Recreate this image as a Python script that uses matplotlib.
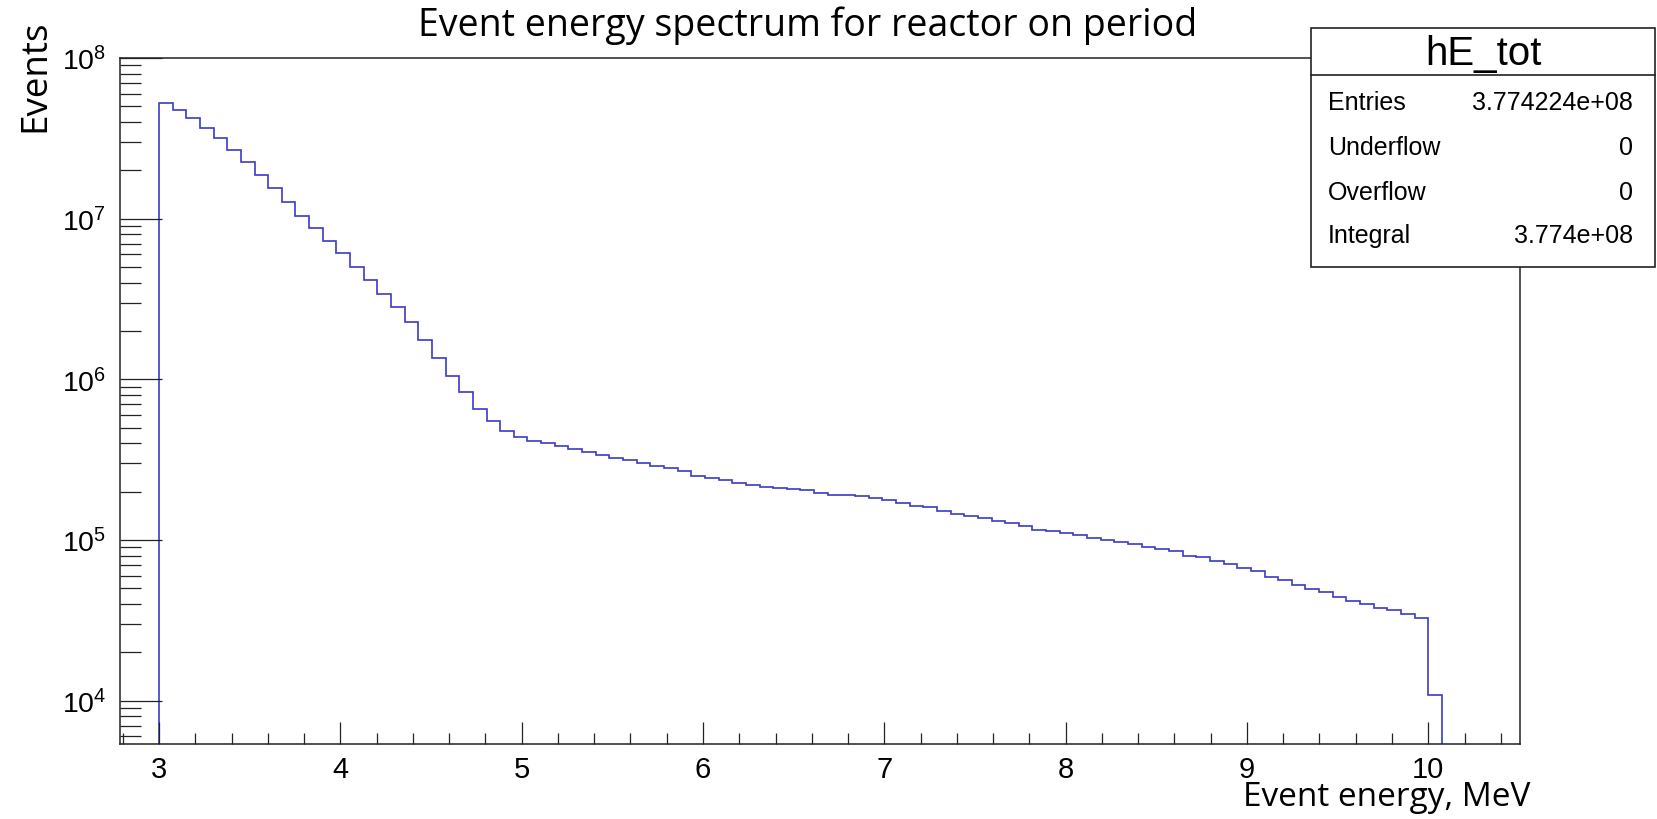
import matplotlib
matplotlib.use('Agg')
import matplotlib.pyplot as plt
from matplotlib.patches import Rectangle
from matplotlib.lines import Line2D
from matplotlib.ticker import FixedLocator, FixedFormatter, MultipleLocator, LogLocator, NullFormatter
import numpy as np

# histogram hE_tot, bins start at 3 MeV
bin_start = 3.0
bin_width = 7.0 / 93
counts = [
    5.25e7, 4.75e7, 4.24e7, 3.67e7, 3.19e7, 2.69e7, 2.25e7, 1.88e7, 1.55e7, 1.27e7,
    1.04e7, 8.71e6, 7.30e6, 6.12e6, 5.00e6, 4.17e6, 3.41e6, 2.82e6, 2.26e6, 1.76e6,
    1.36e6, 1.05e6, 8.30e5, 6.51e5, 5.48e5, 4.80e5, 4.40e5, 4.13e5, 3.99e5, 3.85e5,
    3.68e5, 3.53e5, 3.38e5, 3.25e5, 3.13e5, 3.01e5, 2.90e5, 2.79e5, 2.69e5, 2.52e5,
    2.42e5, 2.37e5, 2.28e5, 2.20e5, 2.15e5, 2.10e5, 2.07e5, 2.04e5, 1.96e5, 1.91e5,
    1.91e5, 1.88e5, 1.82e5, 1.78e5, 1.71e5, 1.64e5, 1.60e5, 1.51e5, 1.45e5, 1.42e5,
    1.37e5, 1.32e5, 1.27e5, 1.22e5, 1.16e5, 1.14e5, 1.11e5, 1.08e5, 1.03e5, 1.00e5,
    9.75e4, 9.39e4, 9.04e4, 8.83e4, 8.55e4, 7.98e4, 7.83e4, 7.36e4, 7.12e4, 6.66e4,
    6.44e4, 5.93e4, 5.61e4, 5.27e4, 4.96e4, 4.72e4, 4.44e4, 4.17e4, 4.01e4, 3.77e4,
    3.65e4, 3.48e4, 3.27e4, 1.09e4,
]

x_ticks = [3, 4, 5, 6, 7, 8, 9, 10]
y_ticks = [1e4, 1e5, 1e6, 1e7, 1e8]
y_tick_labels = ['$10^{4}$', '$10^{5}$', '$10^{6}$', '$10^{7}$', '$10^{8}$']

hist_name = 'hE_tot'
stat_names = ['Entries', 'Underflow', 'Overflow', 'Integral']
stat_values = ['3.774224e+08', '0', '0', '3.774e+08']

title = 'Event energy spectrum for reactor on period'
xlabel = 'Event energy, MeV'
ylabel = 'Events'

plt.rcParams['mathtext.fontset'] = 'custom'
plt.rcParams['mathtext.rm'] = 'Liberation Sans'
plt.rcParams['mathtext.it'] = 'Liberation Sans:italic'
plt.rcParams['mathtext.bf'] = 'Liberation Sans:bold'
plt.rcParams['font.family'] = ['Liberation Sans', 'DejaVu Sans']

W, H = 1657, 820
fig = plt.figure(figsize=(W / 100, H / 100), dpi=100)

# pixel -> figure fraction
def fx(px):
    return px / W

def fy(py):
    return 1 - py / H

ax = fig.add_axes([fx(120), fy(745), fx(1519.5) - fx(120), fy(59) - fy(745)])

edges = bin_start + bin_width * np.arange(len(counts) + 1)
ax.stairs(counts, edges, baseline=1, color='#3b3bc8', lw=1.2)

ax.set_yscale('log')
ax.set_xlim(2.785, 10.503)
ax.set_ylim(5.38e3, 1e8)

ax.xaxis.set_major_locator(FixedLocator(x_ticks))
ax.xaxis.set_minor_locator(MultipleLocator(0.2))
ax.yaxis.set_major_locator(FixedLocator(y_ticks))
ax.yaxis.set_major_formatter(FixedFormatter(y_tick_labels))
ax.yaxis.set_minor_locator(LogLocator(base=10, subs=np.arange(2, 10)))
ax.yaxis.set_minor_formatter(NullFormatter())

ax.tick_params(axis='x', which='major', direction='in', length=16, width=0.9,
               top=False, labelsize=21, pad=8, color='#222222')
ax.tick_params(axis='x', which='minor', direction='in', length=8, width=0.9,
               top=False, color='#222222')
ax.tick_params(axis='y', which='major', direction='in', length=30, width=0.9,
               right=False, labelsize=20.5, pad=10, color='#222222')
ax.tick_params(axis='y', which='minor', direction='in', length=15, width=0.9,
               right=False, color='#222222')
for s in ax.spines.values():
    s.set_linewidth(1.1)
    s.set_color('#222222')

# titles in ROOT placement
fig.text(fx(808), fy(36), title, ha='center', va='baseline',
         family=['Open Sans', 'DejaVu Sans'], fontsize=27)
fig.text(fx(1530), fy(806), xlabel, ha='right', va='baseline',
         family=['Open Sans', 'DejaVu Sans'], fontsize=24)
fig.text(fx(35), fy(20), ylabel, ha='center', va='top', rotation=90,
         family=['Open Sans', 'DejaVu Sans'], fontsize=26.5)

# stats box
box = Rectangle((fx(1311), fy(268)), fx(1655) - fx(1311), fy(29) - fy(268),
                transform=fig.transFigure, fc='white', ec='#222222', lw=1.2, zorder=5)
fig.add_artist(box)
fig.add_artist(Line2D([fx(1311), fx(1655)], [fy(76), fy(76)], transform=fig.transFigure,
                      color='#222222', lw=1.2, zorder=6))
fig.text(fx(1483), fy(65), hist_name, ha='center', va='baseline', fontsize=29, zorder=7)
row_base = [110.5, 155, 199.5, 243.5]
for name, val, yb in zip(stat_names, stat_values, row_base):
    fig.text(fx(1328), fy(yb), name, ha='left', va='baseline', fontsize=18, zorder=7)
    fig.text(fx(1633), fy(yb), val, ha='right', va='baseline', fontsize=18, zorder=7)

fig.savefig('out.png', dpi=100)
